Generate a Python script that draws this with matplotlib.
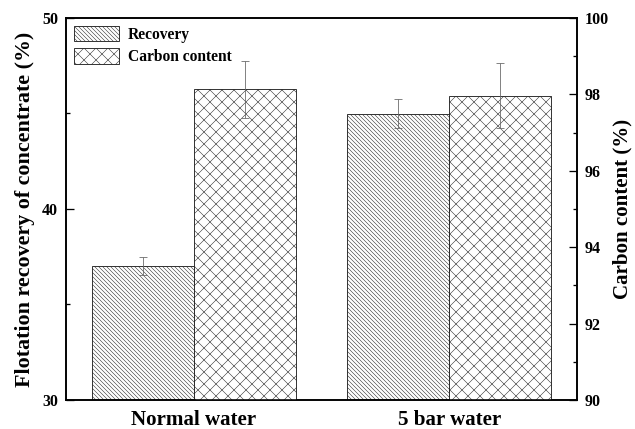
import matplotlib.pyplot as plt
import numpy as np
from matplotlib.ticker import MultipleLocator

plt.rcParams['font.family'] = 'Liberation Serif'
plt.rcParams['font.weight'] = 'bold'
plt.rcParams['axes.labelweight'] = 'bold'
plt.rcParams['hatch.linewidth'] = 0.5
plt.rcParams['hatch.color'] = '#555555'

categories = ['Normal water', '5 bar water']
recovery = [37.03, 44.99]
recovery_err = [0.48, 0.77]
carbon = [98.14, 97.97]
carbon_err = [0.745, 0.85]

fig = plt.figure(figsize=(635 / 72, 429 / 72), dpi=72)
ax = fig.add_axes([66 / 635, 1 - 400 / 429, 511 / 635, 382 / 429])
ax2 = ax.twinx()

x = np.arange(len(categories))
w = 0.4

b1 = ax.bar(x - w / 2, recovery, w, color='white', edgecolor='#222222',
            linewidth=0.9, hatch='\\\\\\\\\\\\', label='Recovery')
ax.errorbar(x - w / 2, recovery, yerr=recovery_err, fmt='none', ecolor='#666666',
            elinewidth=0.8, capsize=4, capthick=0.8)
b2 = ax2.bar(x + w / 2, carbon, w, color='white', edgecolor='#222222',
             linewidth=0.9, hatch='xx', label='Carbon content')
ax2.errorbar(x + w / 2, carbon, yerr=carbon_err, fmt='none', ecolor='#666666',
             elinewidth=0.8, capsize=4, capthick=0.8)

ax.set_xlim(-0.5, 1.5)
ax.set_ylim(30, 50)
ax2.set_ylim(90, 100)
ax.set_yticks([30, 40, 50])
ax.yaxis.set_minor_locator(MultipleLocator(5))
ax2.set_yticks(range(90, 101, 2))
ax2.yaxis.set_minor_locator(MultipleLocator(1))

ax.set_xticks(x, categories)
ax.tick_params(axis='x', length=0, labelsize=21, pad=10)
ax.tick_params(axis='y', which='major', direction='in', length=8, width=1.3,
               labelsize=16, pad=8)
ax.tick_params(axis='y', which='minor', direction='in', length=4, width=1.3)
ax2.tick_params(axis='y', which='major', direction='in', length=8, width=1.3,
                labelsize=16, pad=8)
ax2.tick_params(axis='y', which='minor', direction='in', length=4, width=1.3)

for a in (ax, ax2):
    for s in a.spines.values():
        s.set_linewidth(1.6)

ax.set_ylabel('Flotation recovery of concentrate (%)', fontsize=22, labelpad=7)
ax2.set_ylabel('Carbon content (%)', fontsize=21, labelpad=3)

ax2.legend([b1, b2], ['Recovery', 'Carbon content'], loc='upper left',
           frameon=False, fontsize=15.5, handlelength=2.9, handleheight=1.15,
           borderaxespad=0.3, borderpad=0.2, labelspacing=0.35, handletextpad=0.6)

fig.savefig('out.png', dpi=72)
